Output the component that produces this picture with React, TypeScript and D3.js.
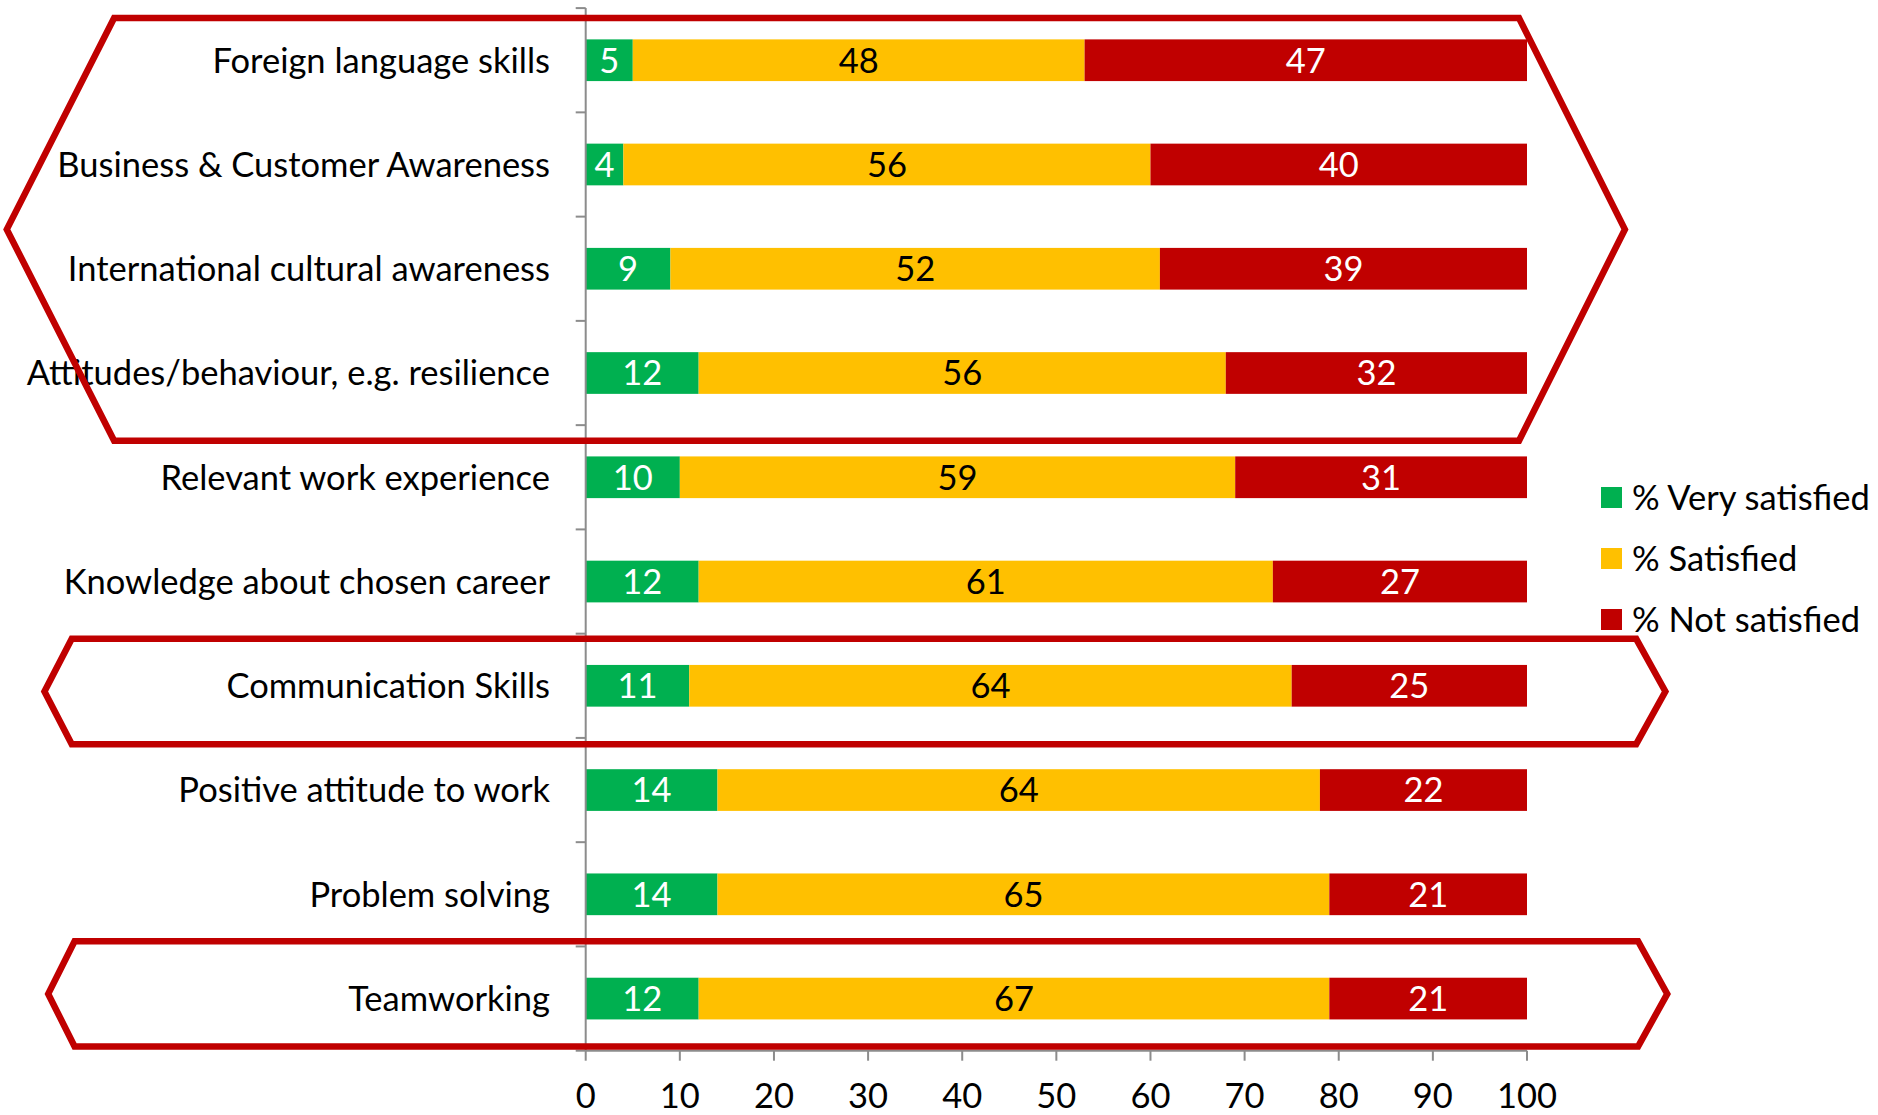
import React from "react";
import * as d3 from "d3";

const categories = [
  "Foreign language skills",
  "Business & Customer Awareness",
  "International cultural awareness",
  "Attitudes/behaviour, e.g. resilience",
  "Relevant work experience",
  "Knowledge about chosen career",
  "Communication Skills",
  "Positive attitude to work",
  "Problem solving",
  "Teamworking",
];
const verySatisfied = [5, 4, 9, 12, 10, 12, 11, 14, 14, 12];
const satisfied = [48, 56, 52, 56, 59, 61, 64, 64, 65, 67];
const notSatisfied = [47, 40, 39, 32, 31, 27, 25, 22, 21, 21];
const seriesNames = ["% Very satisfied", "% Satisfied", "% Not satisfied"];
const seriesColors = ["#00B050", "#FFC000", "#C00000"];
const labelColors = ["#FFFFFF", "#000000", "#FFFFFF"];
const xTicks = [0, 10, 20, 30, 40, 50, 60, 70, 80, 90, 100];

// annotation outlines: band-index units for y, value units for x
const outlineTop = [0.095, 6.05, 8.95];
const outlineBottom = [4.15, 7.06, 9.96];
const outlineLeftPoint = [-61.5, -57.5, -57.1];
const outlineLeftCorner = [-50.1, -54.6, -54.3];
const outlineRightCorner = [99.15, 111.6, 111.8];
const outlineRightPoint = [110.4, 114.7, 114.9];

const W = 1878;
const H = 1115;
const FONT = "Lato, Carlito, Calibri, 'Noto Sans', sans-serif";

export default function App() {
  const x = d3.scaleLinear().domain([0, 100]).range([585.7, 1527]);
  const plotTop = 8.1;
  const plotBottom = 1050.7;
  const y = d3
    .scaleBand<string>()
    .domain(categories)
    .range([plotTop, plotBottom])
    .paddingInner(0.6)
    .paddingOuter(0.3);
  const yb = d3.scaleLinear().domain([0, categories.length]).range([plotTop, plotBottom]);

  const rows = categories.map((c, i) => ({
    cat: c,
    vals: [verySatisfied[i], satisfied[i], notSatisfied[i]],
  }));
  const stack = d3
    .stack<any>()
    .keys(["0", "1", "2"])
    .value((d: any, k: string) => d.vals[+k])(rows);

  const axisColor = "#8C8C8C";
  const fs = 34.5;

  return (
    <svg
      width={W}
      height={H}
      style={{ position: "absolute", left: 0, top: 0, background: "#fff" }}
      fontFamily={FONT}
    >
      {/* bars */}
      {stack.map((s, si) =>
        s.map((d: any, i: number) => {
          const cy = y(categories[i])!;
          const x0 = x(d[0]);
          const x1 = x(d[1]);
          return (
            <g key={`b${si}-${i}`}>
              <rect x={x0} y={cy} width={x1 - x0} height={y.bandwidth()} fill={seriesColors[si]} />
              <text
                x={(x0 + x1) / 2}
                y={cy + y.bandwidth() / 2}
                dy="0.36em"
                textAnchor="middle"
                fontSize={fs}
                fill={labelColors[si]}
              >
                {rows[i].vals[si]}
              </text>
            </g>
          );
        })
      )}

      {/* y axis */}
      <line x1={x(0)} x2={x(0)} y1={plotTop} y2={plotBottom} stroke={axisColor} strokeWidth={2} />
      {d3.range(categories.length + 1).map((k) => (
        <line
          key={`yt${k}`}
          x1={x(0) - 10}
          x2={x(0)}
          y1={yb(k)}
          y2={yb(k)}
          stroke={axisColor}
          strokeWidth={2}
        />
      ))}
      {categories.map((c) => (
        <text
          key={`yl${c}`}
          x={550}
          y={y(c)! + y.bandwidth() / 2}
          dy="0.36em"
          textAnchor="end"
          fontSize={fs}
          fill="#000"
        >
          {c}
        </text>
      ))}

      {/* x axis */}
      <line x1={x(0)} x2={x(100)} y1={plotBottom} y2={plotBottom} stroke={axisColor} strokeWidth={2} />
      {xTicks.map((t) => (
        <g key={`xt${t}`}>
          <line x1={x(t)} x2={x(t)} y1={plotBottom} y2={plotBottom + 10} stroke={axisColor} strokeWidth={2} />
          <text x={x(t)} y={1108} textAnchor="middle" fontSize={fs} fill="#000">
            {t}
          </text>
        </g>
      ))}

      {/* legend */}
      {seriesNames.map((n, i) => {
        const cy = 497.5 + i * 61;
        return (
          <g key={`lg${i}`}>
            <rect x={1601} y={cy - 10.5} width={21} height={21} fill={seriesColors[i]} />
            <text x={1632} y={cy} dy="0.36em" fontSize={fs} fill="#000">
              {n}
            </text>
          </g>
        );
      })}

      {/* highlight outlines */}
      {outlineTop.map((t, i) => {
        const top = yb(t);
        const bot = yb(outlineBottom[i]);
        const mid = (top + bot) / 2;
        const pts: [number, number][] = [
          [x(outlineLeftPoint[i]), mid],
          [x(outlineLeftCorner[i]), top],
          [x(outlineRightCorner[i]), top],
          [x(outlineRightPoint[i]), mid],
          [x(outlineRightCorner[i]), bot],
          [x(outlineLeftCorner[i]), bot],
        ];
        const line = d3.line();
        return (
          <path
            key={`ol${i}`}
            d={line(pts)! + "Z"}
            fill="none"
            stroke="#C00000"
            strokeWidth={6.5}
            strokeLinejoin="miter"
          />
        );
      })}
    </svg>
  );
}
